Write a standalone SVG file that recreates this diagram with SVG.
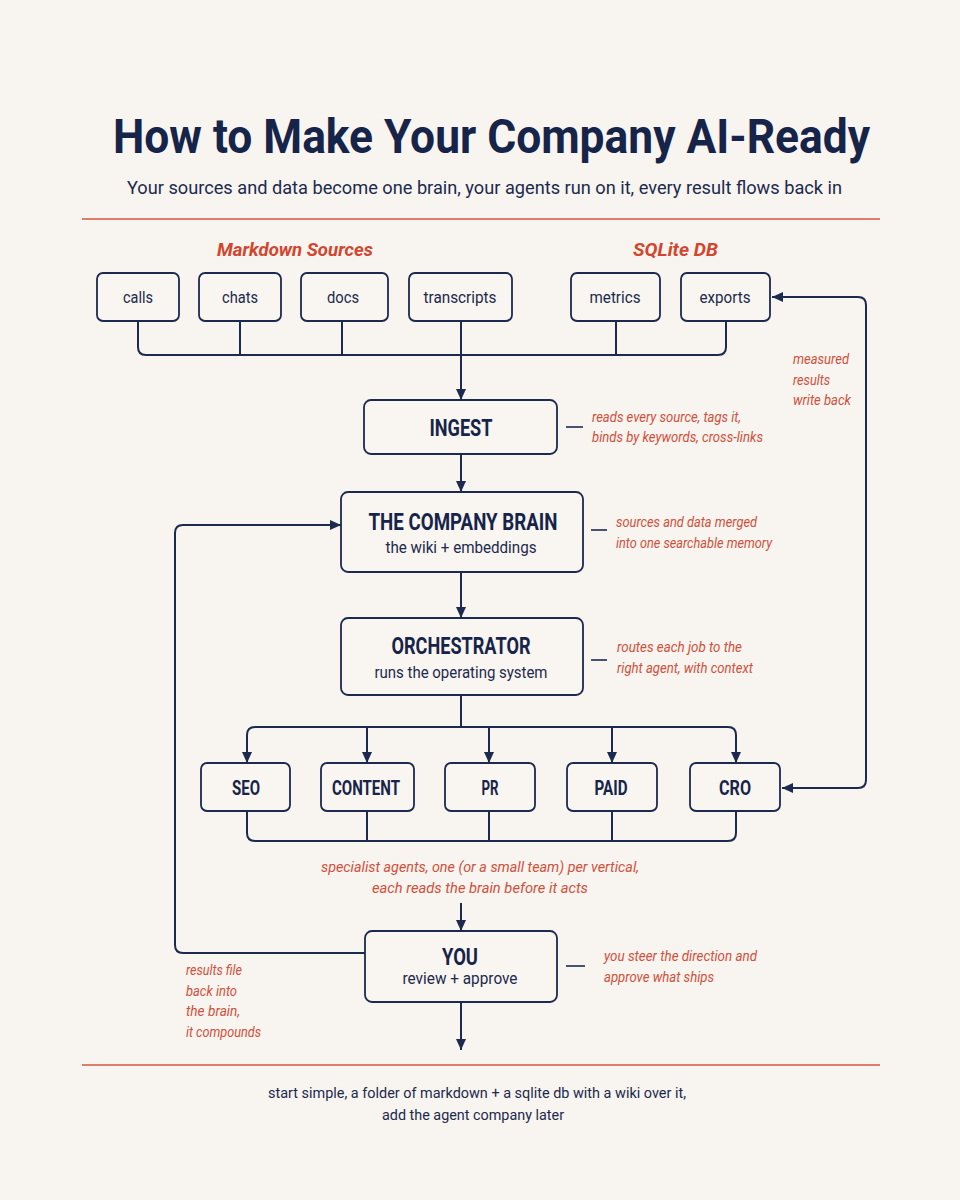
<svg xmlns="http://www.w3.org/2000/svg" width="960" height="1200" viewBox="0 0 960 1200">
<defs>
<marker id="ah" markerUnits="userSpaceOnUse" markerWidth="12" markerHeight="12" refX="11" refY="6" orient="auto-start-reverse" viewBox="0 0 12 12">
<path d="M0,1 L11,6 L0,11 z" fill="#1b2a4e"/>
</marker>
<style>
.bg{fill:#f8f4ef}
.box{fill:#f9f5f0;stroke:#1b2a4e;stroke-width:1.8}
.ln{fill:none;stroke:#1b2a4e;stroke-width:2}
.arr{fill:none;stroke:#1b2a4e;stroke-width:2;marker-end:url(#ah)}
.rule{stroke:#d4583f;stroke-width:1.6}
.dash{stroke:#1b2a4e;stroke-width:1.6}
.title{font-family:Roboto,"Liberation Sans",sans-serif;font-weight:700;fill:#16244a;font-size:48px}
.sub{font-family:Roboto,"Liberation Sans",sans-serif;fill:#1b2a4e;font-size:18px}
.grp{font-family:Roboto,"Liberation Sans",sans-serif;font-weight:700;font-style:italic;fill:#d2452e;font-size:19px}
.lbl{font-family:Roboto,"Liberation Sans",sans-serif;fill:#1b2a4e;font-size:16px;text-anchor:middle}
.hd{font-family:Roboto,"Liberation Sans",sans-serif;font-weight:700;fill:#16244a;font-size:23px;text-anchor:middle}
.hs{font-family:Roboto,"Liberation Sans",sans-serif;font-weight:700;fill:#16244a;font-size:20px;text-anchor:middle}
.note{font-family:Roboto,"Liberation Sans",sans-serif;font-style:italic;fill:#d0503c;font-size:14px}
.foot{font-family:Roboto,"Liberation Sans",sans-serif;fill:#1b2a4e;font-size:15px;text-anchor:middle}
</style>
</defs>
<rect class="bg" x="0" y="0" width="960" height="1200"/>

<g id="header">
<text class="title" x="113" y="153" textLength="757" lengthAdjust="spacingAndGlyphs">How to Make Your Company AI-Ready</text>
<text class="sub" x="127" y="194" textLength="715" lengthAdjust="spacingAndGlyphs">Your sources and data become one brain, your agents run on it, every result flows back in</text>
<line class="rule" x1="82" y1="219" x2="880" y2="219"/>
<text class="grp" x="217" y="256" textLength="156" lengthAdjust="spacingAndGlyphs">Markdown Sources</text>
<text class="grp" x="633" y="256" textLength="85" lengthAdjust="spacingAndGlyphs">SQLite DB</text>
</g>

<g id="connectors">
<path class="ln" d="M138,321 V347 Q138,355 146,355 H718 Q726,355 726,347 V321"/>
<line class="ln" x1="240" y1="321" x2="240" y2="355"/>
<line class="ln" x1="342" y1="321" x2="342" y2="355"/>
<line class="ln" x1="616" y1="321" x2="616" y2="355"/>
<path class="arr" d="M461,321 V400"/>
<path class="arr" d="M461,454 V492"/>
<path class="arr" d="M461,572 V618"/>
<line class="ln" x1="461" y1="695" x2="461" y2="727"/>
<path class="arr" d="M461,727 H255 Q247,727 247,735 V763"/>
<path class="arr" d="M461,727 H728 Q736,727 736,735 V763"/>
<path class="arr" d="M367,727 V763"/>
<path class="arr" d="M489,727 V763"/>
<path class="arr" d="M612,727 V763"/>
<path class="ln" d="M247,811 V833 Q247,841 255,841 H728 Q736,841 736,833 V811"/>
<line class="ln" x1="367" y1="811" x2="367" y2="841"/>
<line class="ln" x1="489" y1="811" x2="489" y2="841"/>
<line class="ln" x1="612" y1="811" x2="612" y2="841"/>
<path class="arr" d="M461,903 V931"/>
<path class="arr" d="M461,1002 V1050"/>
<path class="arr" d="M365,953 H183 Q175,953 175,945 V533 Q175,525 183,525 H341"/>
<path class="ln" d="M772,297 H858 Q866,297 866,305 V780 Q866,788 858,788 H782" marker-start="url(#ah)" marker-end="url(#ah)"/>
<line class="dash" x1="566" y1="427" x2="583" y2="427"/>
<line class="dash" x1="591" y1="530" x2="607" y2="530"/>
<line class="dash" x1="591" y1="660" x2="607" y2="660"/>
<line class="dash" x1="566" y1="966" x2="585" y2="966"/>
</g>

<g id="calls"><rect class="box" x="97" y="273" width="82" height="48" rx="6"/><text class="lbl" x="138" y="303" textLength="30" lengthAdjust="spacingAndGlyphs">calls</text></g>
<g id="chats"><rect class="box" x="199" y="273" width="82" height="48" rx="6"/><text class="lbl" x="240" y="303" textLength="36" lengthAdjust="spacingAndGlyphs">chats</text></g>
<g id="docs"><rect class="box" x="301" y="273" width="87" height="48" rx="6"/><text class="lbl" x="343" y="303" textLength="32" lengthAdjust="spacingAndGlyphs">docs</text></g>
<g id="transcripts"><rect class="box" x="409" y="273" width="103" height="48" rx="6"/><text class="lbl" x="460" y="303" textLength="73" lengthAdjust="spacingAndGlyphs">transcripts</text></g>
<g id="metrics"><rect class="box" x="571" y="273" width="89" height="48" rx="6"/><text class="lbl" x="615" y="303" textLength="51" lengthAdjust="spacingAndGlyphs">metrics</text></g>
<g id="exports"><rect class="box" x="681" y="273" width="89" height="48" rx="6"/><text class="lbl" x="725" y="303" textLength="51" lengthAdjust="spacingAndGlyphs">exports</text></g>

<g id="ingest"><rect class="box" x="364" y="400" width="193" height="54" rx="7"/><text class="hd" x="461" y="436" textLength="63" lengthAdjust="spacingAndGlyphs">INGEST</text></g>
<g id="brain"><rect class="box" x="341" y="492" width="242" height="80" rx="7"/><text class="hd" x="463" y="530" textLength="189" lengthAdjust="spacingAndGlyphs">THE COMPANY BRAIN</text><text class="lbl" x="461" y="553" textLength="151" lengthAdjust="spacingAndGlyphs">the wiki + embeddings</text></g>
<g id="orchestrator"><rect class="box" x="341" y="618" width="242" height="77" rx="7"/><text class="hd" x="461" y="654" textLength="139" lengthAdjust="spacingAndGlyphs">ORCHESTRATOR</text><text class="lbl" x="461" y="678" textLength="173" lengthAdjust="spacingAndGlyphs">runs the operating system</text></g>

<g id="seo"><rect class="box" x="201" y="763" width="89" height="48" rx="6"/><text class="hs" x="246" y="795" textLength="28" lengthAdjust="spacingAndGlyphs">SEO</text></g>
<g id="content"><rect class="box" x="321" y="763" width="93" height="48" rx="6"/><text class="hs" x="366" y="795" textLength="68" lengthAdjust="spacingAndGlyphs">CONTENT</text></g>
<g id="pr"><rect class="box" x="445" y="763" width="90" height="48" rx="6"/><text class="hs" x="490" y="795" textLength="17" lengthAdjust="spacingAndGlyphs">PR</text></g>
<g id="paid"><rect class="box" x="567" y="763" width="90" height="48" rx="6"/><text class="hs" x="611" y="795" textLength="33" lengthAdjust="spacingAndGlyphs">PAID</text></g>
<g id="cro"><rect class="box" x="690" y="763" width="90" height="48" rx="6"/><text class="hs" x="735" y="795" textLength="32" lengthAdjust="spacingAndGlyphs">CRO</text></g>

<g id="you"><rect class="box" x="365" y="931" width="192" height="71" rx="7"/><text class="hd" x="460" y="965" textLength="36" lengthAdjust="spacingAndGlyphs">YOU</text><text class="lbl" x="460" y="984" textLength="115" lengthAdjust="spacingAndGlyphs">review + approve</text></g>

<g id="notes">
<text class="note" x="592" y="422" textLength="149" lengthAdjust="spacingAndGlyphs">reads every source, tags it,</text>
<text class="note" x="592" y="442" textLength="171" lengthAdjust="spacingAndGlyphs">binds by keywords, cross-links</text>
<text class="note" x="616" y="527" textLength="141" lengthAdjust="spacingAndGlyphs">sources and data merged</text>
<text class="note" x="616" y="548" textLength="156" lengthAdjust="spacingAndGlyphs">into one searchable memory</text>
<text class="note" x="617" y="652" textLength="125" lengthAdjust="spacingAndGlyphs">routes each job to the</text>
<text class="note" x="617" y="673" textLength="136" lengthAdjust="spacingAndGlyphs">right agent, with context</text>
<text class="note" x="793" y="364" textLength="56" lengthAdjust="spacingAndGlyphs">measured</text>
<text class="note" x="793" y="385" textLength="37" lengthAdjust="spacingAndGlyphs">results</text>
<text class="note" x="793" y="405" textLength="58" lengthAdjust="spacingAndGlyphs">write back</text>
<text class="note" x="480" y="872" text-anchor="middle" textLength="318" lengthAdjust="spacingAndGlyphs">specialist agents, one (or a small team) per vertical,</text>
<text class="note" x="480" y="893" text-anchor="middle" textLength="216" lengthAdjust="spacingAndGlyphs">each reads the brain before it acts</text>
<text class="note" x="604" y="961" textLength="153" lengthAdjust="spacingAndGlyphs">you steer the direction and</text>
<text class="note" x="604" y="982" textLength="110" lengthAdjust="spacingAndGlyphs">approve what ships</text>
<text class="note" x="186" y="975" textLength="56" lengthAdjust="spacingAndGlyphs">results file</text>
<text class="note" x="186" y="996" textLength="51" lengthAdjust="spacingAndGlyphs">back into</text>
<text class="note" x="186" y="1016" textLength="54" lengthAdjust="spacingAndGlyphs">the brain,</text>
<text class="note" x="186" y="1037" textLength="75" lengthAdjust="spacingAndGlyphs">it compounds</text>
</g>

<g id="footer">
<line class="rule" x1="82" y1="1065" x2="880" y2="1065"/>
<text class="foot" x="477" y="1098" textLength="418" lengthAdjust="spacingAndGlyphs">start simple, a folder of markdown + a sqlite db with a wiki over it,</text>
<text class="foot" x="473" y="1120" textLength="182" lengthAdjust="spacingAndGlyphs">add the agent company later</text>
</g>
</svg>
